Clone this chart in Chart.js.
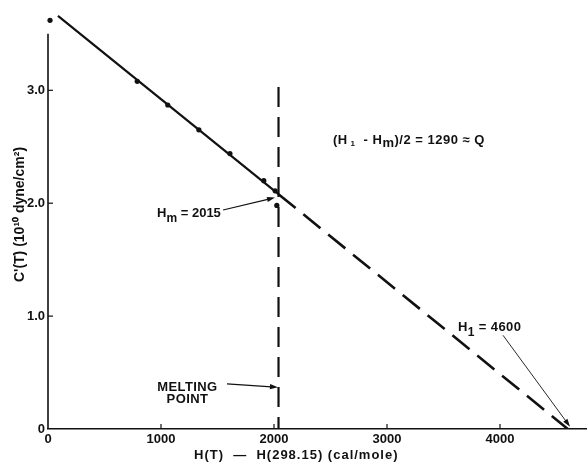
<!DOCTYPE html>
<html>
<head>
<meta charset="utf-8">
<script src="https://cdn.jsdelivr.net/npm/chart.js@4.4.1/dist/chart.umd.min.js"></script>
<style>
  html, body { margin: 0; padding: 0; background: #fff; }
  #contenedor { width: 587px; height: 464px; position: relative; }
</style>
</head>
<body>
<div id="contenedor"><canvas id="graficaModulo"></canvas></div>
<script>
// Puntos medidos: C'(T) frente a H(T) - H(298.15)
const puntosX = [18, 790, 1060, 1335, 1610, 1910, 2010, 2025];
const puntosY = [3.62, 3.08, 2.87, 2.65, 2.44, 2.20, 2.11, 1.98];

// Recta ajustada (parte continua) y su extrapolacion (discontinua)
const rectaX = [88, 2040];
const rectaY = [3.66, 2.08];
const extrapX = [2040, 4600];
const extrapY = [2.08, 0];

// Linea vertical del punto de fusion
const fusionX = [2040, 2040];
const fusionY = [3.03, 0];

const xTicks = [0, 1000, 2000, 3000, 4000];
const yTicks = [0, 1, 2, 3];
const yTickLabels = ['0', '1.0', '2.0', '3.0'];

const tinta = '#111';
const fuente = '"Liberation Sans", Arial, sans-serif';

// Textos de anotacion (coordenadas en unidades de los ejes)
const notas = [
  { x: 2522, y: 2.527, esp: 0.5, partes: [['(H'], [' 1', 'sub', 8, 2], ['  - H'], ['m', 'sub', 13, 3], [')/2 = 1290 ≈ Q']] },
  { x: 965, y: 1.876, esp: 0, partes: [['H'], ['m', 'sub', 12, 5], [' = 2015']] },
  { x: 1234, y: 0.336, esp: 0.4, partes: [['MELTING']], alinear: 'center' },
  { x: 1234, y: 0.23, esp: 0.4, partes: [['POINT']], alinear: 'center' },
  { x: 3628, y: 0.867, esp: 0.4, partes: [['H'], ['1', 'sub', 12, 5], [' = 4600']] }
];

// Flechas de las anotaciones
const flechas = [
  { desde: [1549, 1.94], hasta: [2009, 2.05], grosor: 1.2 },
  { desde: [1584, 0.40], hasta: [2035, 0.37], grosor: 1.2 },
  { desde: [4027, 0.83], hasta: [4620, 0.02], grosor: 0.9 }
];

const ejeYTope = 3.5;

function pares(xs, ys) {
  return xs.map((x, i) => ({ x: x, y: ys[i] }));
}

function flecha(ctx, x1, y1, x2, y2, grosor) {
  const ang = Math.atan2(y2 - y1, x2 - x1);
  const largo = 8, ancho = 2.6;
  ctx.lineWidth = grosor;
  ctx.beginPath();
  ctx.moveTo(x1, y1);
  ctx.lineTo(x2 - Math.cos(ang) * largo * 0.8, y2 - Math.sin(ang) * largo * 0.8);
  ctx.stroke();
  ctx.beginPath();
  ctx.moveTo(x2, y2);
  ctx.lineTo(x2 - Math.cos(ang) * largo - Math.sin(ang) * ancho, y2 - Math.sin(ang) * largo + Math.cos(ang) * ancho);
  ctx.lineTo(x2 - Math.cos(ang) * largo + Math.sin(ang) * ancho, y2 - Math.sin(ang) * largo - Math.cos(ang) * ancho);
  ctx.closePath();
  ctx.fill();
}

// Texto con subindices
function textoRico(ctx, x, y, partes, alinear, esp) {
  ctx.letterSpacing = (esp || 0) + 'px';
  const medidas = partes.map(p => {
    ctx.font = 'bold ' + (p[1] === 'sub' ? p[2] : 13) + 'px ' + fuente;
    return ctx.measureText(p[0]).width;
  });
  const total = medidas.reduce((a, b) => a + b, 0);
  let cx = alinear === 'center' ? x - total / 2 : x;
  ctx.textAlign = 'left';
  ctx.textBaseline = 'alphabetic';
  partes.forEach((p, i) => {
    const esSub = p[1] === 'sub';
    ctx.font = 'bold ' + (esSub ? p[2] : 13) + 'px ' + fuente;
    ctx.fillText(p[0], cx, esSub ? y + p[3] : y);
    cx += medidas[i];
  });
  ctx.letterSpacing = '0px';
}

const anotaciones = {
  id: 'anotaciones',
  afterDatasetsDraw(chart) {
    const { ctx, scales } = chart;
    const px = v => scales.x.getPixelForValue(v);
    const py = v => scales.y.getPixelForValue(v);
    ctx.save();
    ctx.strokeStyle = tinta;
    ctx.fillStyle = tinta;

    // Eje Y (solo hasta 3.5)
    ctx.lineWidth = 1.6;
    ctx.beginPath();
    ctx.moveTo(px(0), py(0));
    ctx.lineTo(px(0), py(ejeYTope));
    ctx.stroke();

    // Marcas hacia dentro
    ctx.lineWidth = 1.2;
    yTicks.forEach(v => {
      if (v === 0) return;
      ctx.beginPath();
      ctx.moveTo(px(0), py(v));
      ctx.lineTo(px(0) + 5, py(v));
      ctx.stroke();
    });
    xTicks.forEach(v => {
      if (v === 0) return;
      ctx.beginPath();
      ctx.moveTo(px(v), py(0));
      ctx.lineTo(px(v), py(0) - 5);
      ctx.stroke();
    });

    flechas.forEach(f => flecha(ctx, px(f.desde[0]), py(f.desde[1]), px(f.hasta[0]), py(f.hasta[1]), f.grosor));
    notas.forEach(n => textoRico(ctx, px(n.x), py(n.y), n.partes, n.alinear, n.esp));

    // Titulo del eje X
    ctx.font = 'bold 13px ' + fuente;
    ctx.textAlign = 'left';
    ctx.letterSpacing = '1px';
    ctx.fillText('H(T)  \u2014  H(298.15) (cal/mole)', 194, 459);
    ctx.restore();
  }
};

const ctx = document.getElementById('graficaModulo').getContext('2d');
new Chart(ctx, {
  type: 'scatter',
  data: {
    datasets: [
      { data: pares(puntosX, puntosY), pointRadius: 2.6, pointBackgroundColor: tinta, pointBorderWidth: 0, clip: false },
      { data: pares(rectaX, rectaY), showLine: true, borderColor: tinta, borderWidth: 2.2, pointRadius: 0, clip: false },
      { data: pares(extrapX, extrapY), showLine: true, borderColor: tinta, borderWidth: 2.6, borderDash: [22, 10], pointRadius: 0 },
      { data: pares(fusionX, fusionY), showLine: true, borderColor: tinta, borderWidth: 2.2, borderDash: [20, 10], pointRadius: 0 }
    ]
  },
  options: {
    responsive: true,
    maintainAspectRatio: false,
    animation: false,
    layout: { padding: 0, autoPadding: false },
    plugins: { legend: { display: false }, tooltip: { enabled: false } },
    scales: {
      x: {
        type: 'linear',
        min: 0,
        max: 4770,
        afterBuildTicks: s => { s.ticks = xTicks.map(v => ({ value: v })); },
        afterFit: s => { s.height = 35; s.paddingLeft = 0; s.paddingRight = 0; },
        grid: { display: false, drawTicks: false },
        border: { display: true, color: tinta, width: 1.6 },
        ticks: { color: tinta, padding: 3, maxRotation: 0, autoSkip: false, font: { family: fuente, size: 13, weight: 'bold' }, callback: v => String(v) }
      },
      y: {
        type: 'linear',
        min: 0,
        max: 3.8,
        afterBuildTicks: s => { s.ticks = yTicks.map(v => ({ value: v })); },
        afterFit: s => { s.width = 48; s.paddingTop = 0; s.paddingBottom = 0; },
        grid: { display: false, drawTicks: false },
        border: { display: false },
        ticks: { color: tinta, padding: 3, font: { family: fuente, size: 13, weight: 'bold' }, callback: v => yTickLabels[yTicks.indexOf(v)] },
        title: { display: true, text: "C'(T) (10\u00b9\u2070 dyne/cm\u00b2)", color: tinta, padding: { top: 12, bottom: 0 }, font: { family: fuente, size: 14, weight: 'bold' } }
      }
    }
  },
  plugins: [anotaciones]
});
</script>
</body>
</html>
